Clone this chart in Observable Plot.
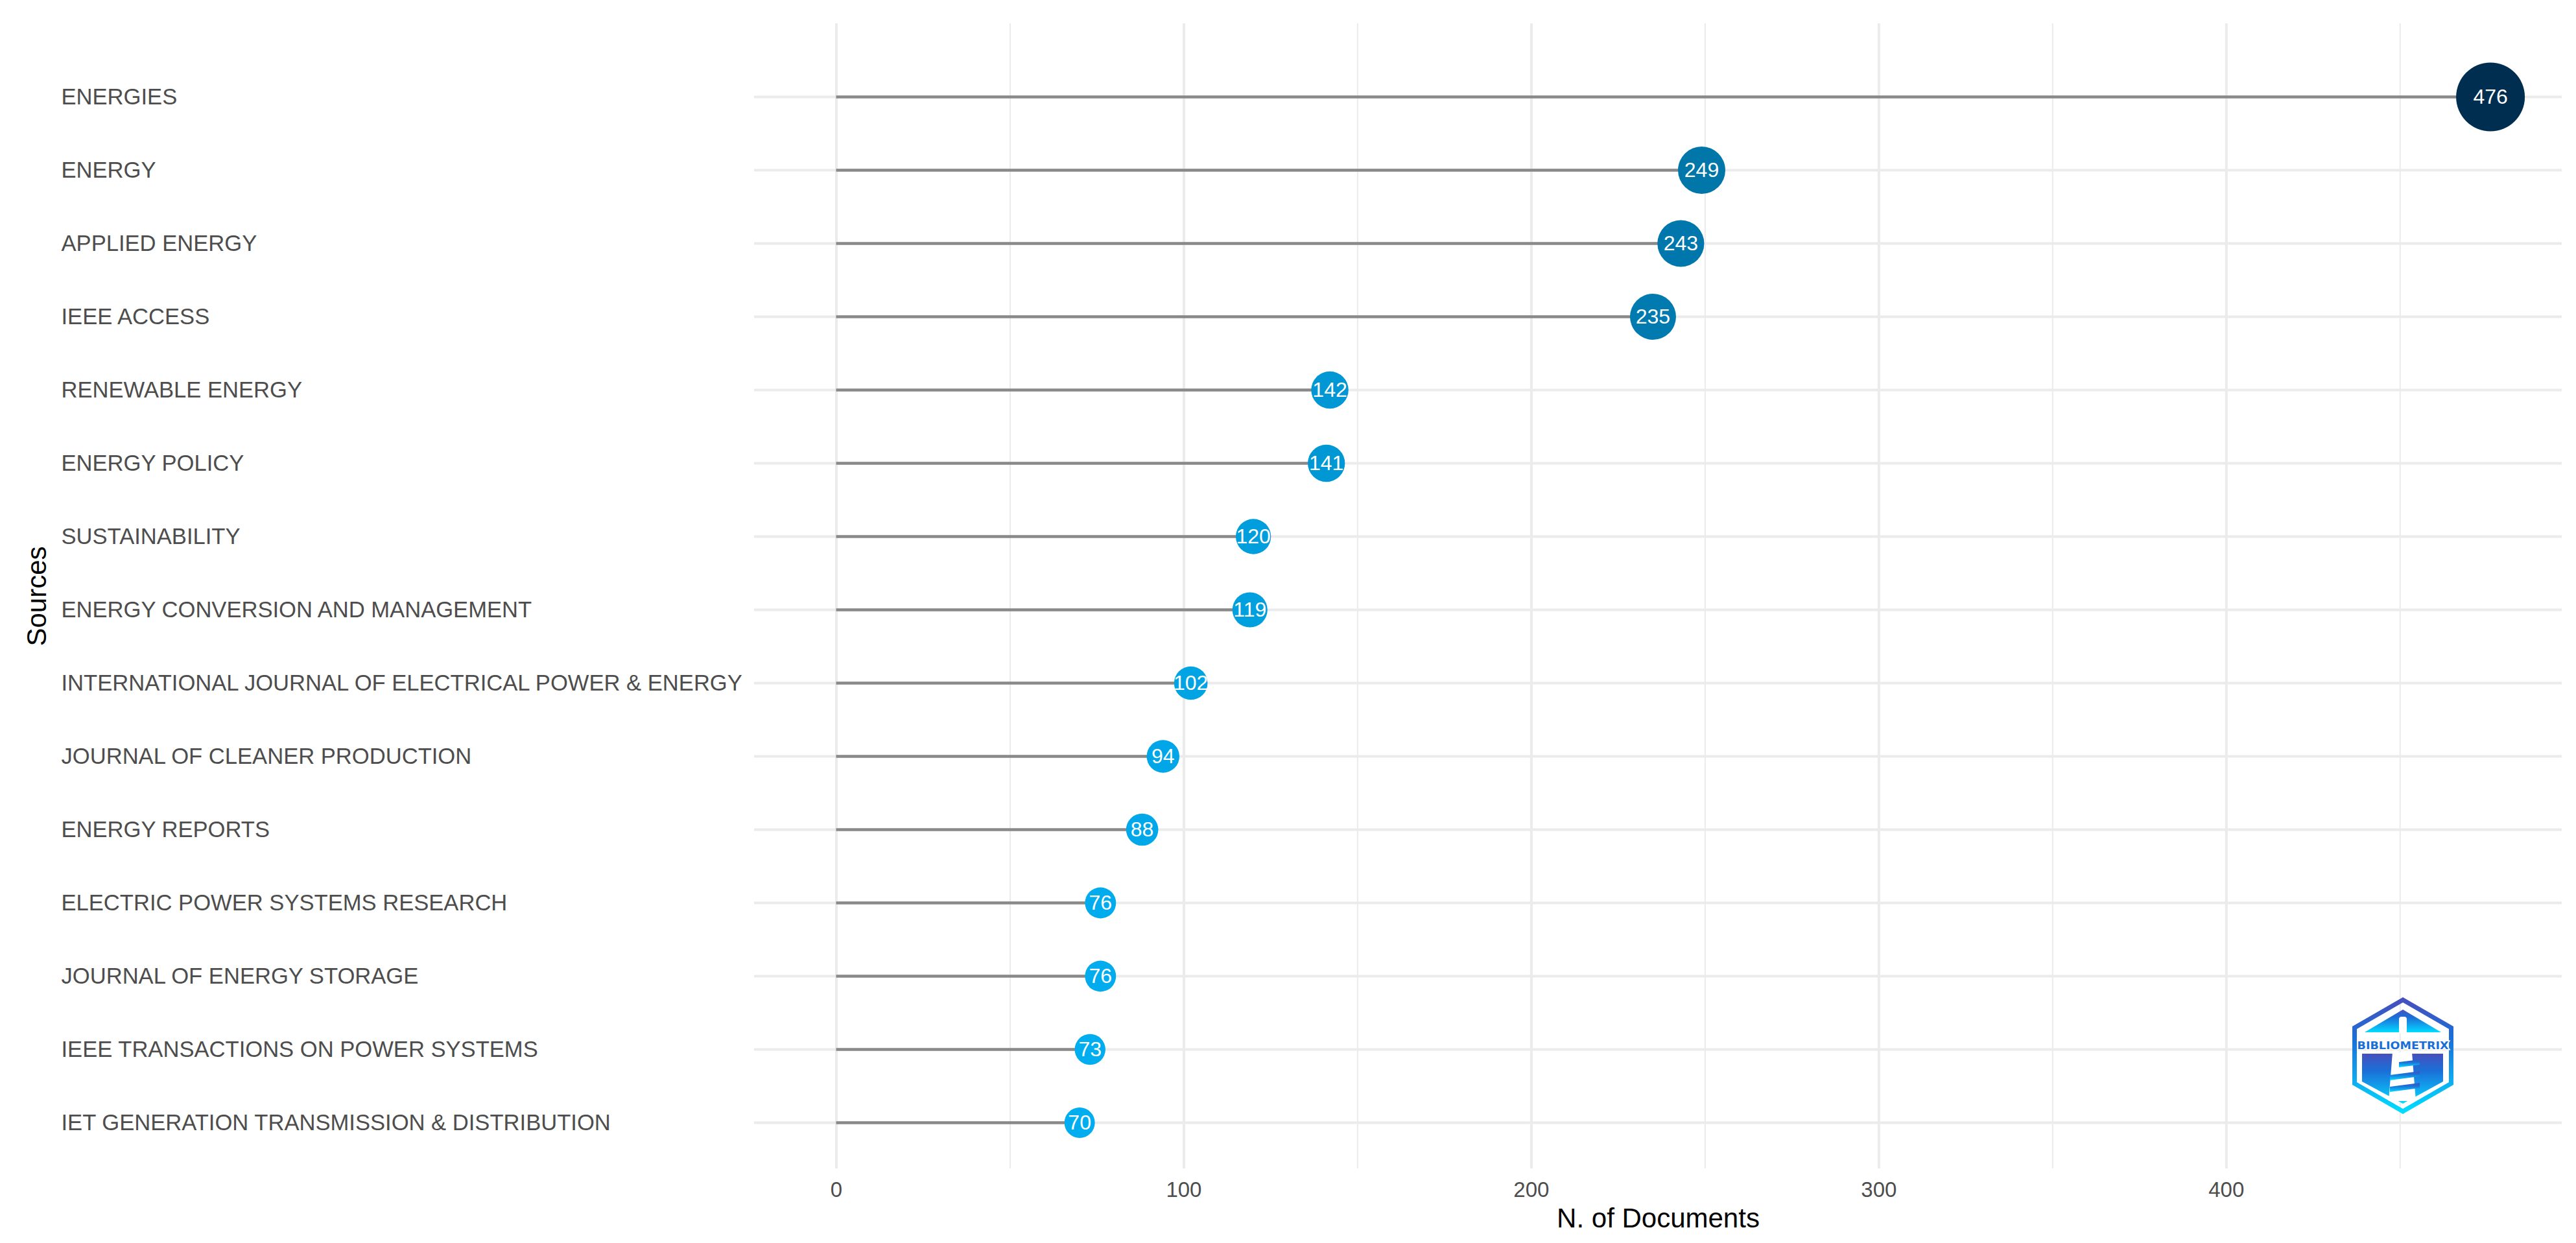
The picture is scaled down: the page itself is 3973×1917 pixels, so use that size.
<!DOCTYPE html>
<html>
<head>
<meta charset="utf-8">
<script src="https://cdn.jsdelivr.net/npm/d3@7"></script>
<script src="https://cdn.jsdelivr.net/npm/@observablehq/plot@0.6"></script>
<style>
  html, body { margin: 0; padding: 0; background: #fff; }
  #wrap { position: relative; width: 3973px; height: 1917px; }
  #logo { position: absolute; left: 3620px; top: 1530px; }
</style>
</head>
<body>
<div id="wrap"></div>
<script>
const sources = [
  "ENERGIES",
  "ENERGY",
  "APPLIED ENERGY",
  "IEEE ACCESS",
  "RENEWABLE ENERGY",
  "ENERGY POLICY",
  "SUSTAINABILITY",
  "ENERGY CONVERSION AND MANAGEMENT",
  "INTERNATIONAL JOURNAL OF ELECTRICAL POWER & ENERGY",
  "JOURNAL OF CLEANER PRODUCTION",
  "ENERGY REPORTS",
  "ELECTRIC POWER SYSTEMS RESEARCH",
  "JOURNAL OF ENERGY STORAGE",
  "IEEE TRANSACTIONS ON POWER SYSTEMS",
  "IET GENERATION TRANSMISSION & DISTRIBUTION"
];
const documents = [476, 249, 243, 235, 142, 141, 120, 119, 102, 94, 88, 76, 76, 73, 70];
const xMajorTicks = [0, 100, 200, 300, 400];
const xMinorTicks = [50, 150, 250, 350, 450];

const data = sources.map((s, i) => ({source: s, n: documents[i]}));

const chart = Plot.plot({
  width: 3973,
  height: 1917,
  marginLeft: 1163,
  marginRight: 22,
  marginTop: 36,
  marginBottom: 115,
  style: {fontFamily: "'Liberation Sans', Arial, sans-serif", background: "#fff"},
  x: {domain: [-23.6, 496.6], label: null},
  y: {type: "point", domain: sources, range: [145, 1734], padding: 0, label: null},
  r: {type: "linear", domain: [70, 476], range: [23.5, 53]},
  color: {type: "linear", domain: [70, 476], range: ["#00aef0", "#002e50"]},
  marks: [
    Plot.gridX(xMinorTicks, {stroke: "#ebebeb", strokeOpacity: 1, strokeWidth: 2}),
    Plot.gridX(xMajorTicks, {stroke: "#ebebeb", strokeOpacity: 1, strokeWidth: 4}),
    Plot.gridY(sources, {stroke: "#ebebeb", strokeOpacity: 1, strokeWidth: 4}),
    Plot.ruleY(data, {y: "source", x1: d => 0, x2: "n", stroke: "#898989", strokeWidth: 4.5}),
    Plot.dot(data, {x: "n", y: "source", r: "n", fill: "n", stroke: null}),
    Plot.text(data, {x: "n", y: "source", text: d => String(d.n), fill: "white", fontSize: 32}),
    Plot.axisX(xMajorTicks, {tickSize: 0, tickPadding: 20, fontSize: 33, fill: "#4d4d4d", label: null}),
    Plot.axisY({tickSize: 0, tickPadding: 0, textAnchor: "start", dx: -1069, fontSize: 34.6, fill: "#4d4d4d", label: null}),
    Plot.text(["N. of Documents"], {frameAnchor: "bottom", lineAnchor: "middle", textAnchor: "middle", dy: 77, fontSize: 42, fill: "#000"}),
    Plot.text(["Sources"], {frameAnchor: "left", lineAnchor: "middle", textAnchor: "middle", rotate: -90, dx: -1106, fontSize: 42, fill: "#000"})
  ]
});
document.getElementById("wrap").appendChild(chart);

// decorative logo (not data)
const logo = `
<svg id="logo" width="175" height="195" viewBox="0 0 175 195" xmlns="http://www.w3.org/2000/svg">
  <defs>
    <linearGradient id="lg" x1="0" y1="0" x2="0" y2="1">
      <stop offset="0" stop-color="#4650bd"/>
      <stop offset="0.35" stop-color="#1a70d8"/>
      <stop offset="0.6" stop-color="#1496e8"/>
      <stop offset="1" stop-color="#00dcff"/>
    </linearGradient>
  </defs>
  <polygon points="86,12 160.5,55 160.5,141 86,184 11.5,141 11.5,55" fill="none" stroke="url(#lg)" stroke-width="7"/>
  <g fill="url(#lg)">
    <polygon points="86,27 145,62 27,62"/>
    <polygon points="23,95 148,95 148,138 86,172 23,138"/>
  </g>
  <rect x="80" y="38" width="12" height="26" rx="4" fill="#fff"/>
  <polygon points="70,93 100,93 106,168 64,168" fill="#fff"/>
  <g fill="url(#lg)">
    <polygon points="80,108 112,104 112,112 80,116"/>
    <polygon points="66,128 112,122 112,130 66,136"/>
    <polygon points="66,146 112,140 112,148 66,154"/>
  </g>
  <text x="86" y="88" text-anchor="middle" font-family="'DejaVu Sans', sans-serif" font-weight="bold" font-size="16" textLength="141" lengthAdjust="spacingAndGlyphs" fill="#1a6fd6" stroke="#fff" stroke-width="3" paint-order="stroke">BIBLIOMETRIX</text>
</svg>`;
document.getElementById("wrap").insertAdjacentHTML("beforeend", logo);
</script>
</body>
</html>
